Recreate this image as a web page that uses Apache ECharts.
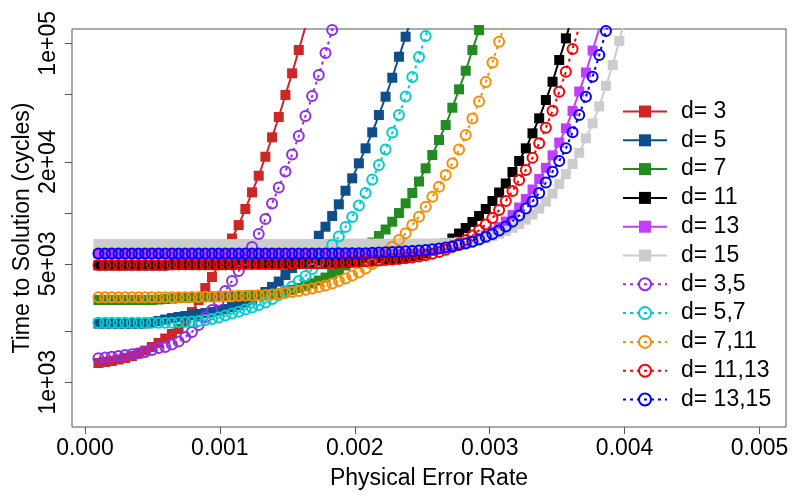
<!DOCTYPE html>
<html>
<head>
<meta charset="utf-8">
<script src="https://cdn.jsdelivr.net/npm/echarts@6/dist/echarts.min.js"></script>
<style>
  html, body { margin: 0; padding: 0; background: #fff; }
  #chart { width: 800px; height: 500px; }
</style>
</head>
<body>
<div id="chart"></div>
<script>
// physical error rates shared by every curve (100 steps from 1e-4 to 5e-3, only the visible part)
var errorRates = [
  0.0001, 0.0001495, 0.000199, 0.0002485, 0.000298, 0.0003475, 0.000397, 0.0004465, 0.000496, 0.0005455,
  0.0005949, 0.0006444, 0.0006939, 0.0007434, 0.0007929, 0.0008424, 0.0008919, 0.0009414, 0.0009909, 0.0010404,
  0.0010899, 0.0011394, 0.0011889, 0.0012384, 0.0012879, 0.0013374, 0.0013869, 0.0014364, 0.0014859, 0.0015354,
  0.0015848, 0.0016343, 0.0016838, 0.0017333, 0.0017828, 0.0018323, 0.0018818, 0.0019313, 0.0019808, 0.0020303,
  0.0020798, 0.0021293, 0.0021788, 0.0022283, 0.0022778, 0.0023273, 0.0023768, 0.0024263, 0.0024758, 0.0025253,
  0.0025747, 0.0026242, 0.0026737, 0.0027232, 0.0027727, 0.0028222, 0.0028717, 0.0029212, 0.0029707, 0.0030202,
  0.0030697, 0.0031192, 0.0031687, 0.0032182, 0.0032677, 0.0033172, 0.0033667, 0.0034162, 0.0034657, 0.0035152,
  0.0035646, 0.0036141, 0.0036636, 0.0037131, 0.0037626, 0.0038121, 0.0038616, 0.0039111, 0.0039606, 0.0040101
]

// time to solution (cycles), single distance
var d3 = [
  1300, 1318, 1336, 1363, 1391, 1429, 1479, 1540, 1616, 1706,
  1813, 1928, 2063, 2300, 2598, 3059, 3600, 4180, 4920, 5870,
  7050, 8470, 10530, 13210, 16550, 21430, 27890, 36750, 49550, 66530,
  91300, 125300
]
var d5 = [
  2220, 2220, 2220, 2220, 2220, 2220, 2220, 2223, 2253, 2300,
  2347, 2395, 2428, 2461, 2495, 2529, 2563, 2598, 2652, 2706,
  2781, 2858, 2957, 3080, 3229, 3410, 3650, 3932, 4296, 4724,
  5195, 5792, 6457, 7327, 8279, 9574, 11220, 13500, 15980, 19590,
  24020, 29850, 37760, 48420, 62670, 83350, 109400, 146900
]
var d7 = [
  3059, 3059, 3059, 3059, 3059, 3059, 3059, 3059, 3059, 3080,
  3100, 3120, 3140, 3155, 3165, 3175, 3185, 3195, 3205, 3215,
  3225, 3235, 3245, 3255, 3265, 3285, 3310, 3355, 3424, 3503,
  3600, 3709, 3838, 3987, 4153, 4355, 4598, 4889, 5231, 5636,
  6115, 6680, 7297, 7971, 8862, 9972, 11380, 13090, 15300, 18300,
  21930, 26890, 32960, 41700, 53530, 68920, 91300, 119800, 160000
]
var d11 = [
  4900, 4900, 4900, 4900, 4900, 4900, 4900, 4900, 4900, 4900,
  4900, 4935, 4935, 4935, 4935, 4935, 4935, 4935, 4935, 4935,
  4935, 4970, 4970, 4970, 4970, 4970, 4970, 4970, 4970, 5020,
  5020, 5020, 5020, 5020, 5020, 5040, 5060, 5080, 5105, 5130,
  5160, 5190, 5225, 5270, 5320, 5380, 5450, 5530, 5620, 5753,
  5993, 6285, 6634, 7054, 7548, 8134, 8826, 9574, 10530, 11740,
  13180, 14890, 17410, 20210, 24020, 29440, 36110, 46300, 59360, 79700,
  107000, 146900
]
var d13 = [
  5740, 5740, 5740, 5740, 5740, 5740, 5740, 5740, 5740, 5740,
  5740, 5740, 5740, 5740, 5740, 5740, 5740, 5740, 5740, 5740,
  5740, 5740, 5740, 5740, 5740, 5740, 5740, 5740, 5740, 5740,
  5740, 5740, 5740, 5740, 5740, 5740, 5770, 5770, 5770, 5770,
  5770, 5800, 5825, 5850, 5870, 5895, 5930, 5960, 6000, 6050,
  6110, 6180, 6270, 6380, 6510, 6660, 6840, 7050, 7347, 7757,
  8245, 8886, 9705, 10750, 12060, 13730, 15830, 18430, 21840, 25980,
  31520, 39870, 51960, 67270, 90700, 122300
]
var d15 = [
  6545, 6545, 6545, 6545, 6545, 6545, 6545, 6545, 6545, 6545,
  6545, 6545, 6545, 6545, 6545, 6545, 6545, 6545, 6545, 6545,
  6545, 6545, 6545, 6545, 6545, 6545, 6545, 6545, 6545, 6545,
  6545, 6545, 6545, 6545, 6545, 6572, 6572, 6572, 6572, 6572,
  6572, 6572, 6572, 6572, 6572, 6572, 6572, 6572, 6572, 6572,
  6572, 6599, 6625, 6662, 6707, 6771, 6855, 6968, 7111, 7297,
  7528, 7809, 8156, 8588, 9131, 9772, 10600, 11660, 13000, 14790,
  16940, 19410, 22590, 27510, 33730, 42490, 56160, 74470, 103400, 146900
]

// time to solution (cycles), distance pairs
var d3d5 = [
  1385, 1400, 1414, 1430, 1450, 1465, 1483, 1510, 1550, 1594,
  1616, 1670, 1740, 1850, 1980, 2180, 2430, 2670, 3020, 3460,
  3960, 4540, 5270, 6290, 7500, 9190, 11340, 14100, 17520, 22080,
  28390, 37250, 48880, 65010, 87670, 119800, 166000
]
var d5d7 = [
  2247, 2247, 2247, 2247, 2247, 2247, 2247, 2247, 2247, 2247,
  2247, 2247, 2259, 2268, 2284, 2300, 2331, 2363, 2412, 2478,
  2546, 2609, 2688, 2762, 2858, 2957, 3101, 3273, 3457, 3675,
  3960, 4239, 4660, 5160, 5753, 6457, 7248, 8245, 9445, 11040,
  13090, 15720, 19140, 23630, 29770, 37760, 48560, 63270, 83020, 110400,
  147000
]
var d7d11 = [
  3173, 3173, 3173, 3173, 3173, 3173, 3173, 3173, 3173, 3173,
  3173, 3173, 3173, 3177, 3182, 3185, 3194, 3203, 3212, 3221,
  3229, 3238, 3247, 3256, 3265, 3278, 3296, 3328, 3364, 3410,
  3457, 3513, 3576, 3650, 3725, 3827, 3960, 4097, 4268, 4446,
  4692, 4987, 5338, 5832, 6310, 6911, 7569, 8472, 9484, 10860,
  12450, 14260, 16710, 19590, 23630, 28770, 36010, 45370, 59120, 77030,
  102200, 137200
]
var d11d13 = [
  4920, 4920, 4920, 4920, 4920, 4920, 4920, 4920, 4920, 4920,
  4920, 4955, 4955, 4955, 4955, 4955, 4955, 4955, 4955, 4955,
  4955, 4987, 4987, 4987, 4987, 4987, 4987, 4987, 4987, 5036,
  5036, 5036, 5036, 5036, 5036, 5056, 5077, 5098, 5126, 5147,
  5175, 5195, 5231, 5267, 5303, 5338, 5390, 5449, 5523, 5614,
  5730, 5870, 6049, 6285, 6572, 6911, 7347, 7884, 8531, 9318,
  10390, 11740, 13450, 15620, 17890, 21140, 25700, 31780, 40050, 51830,
  68000, 92560, 125300
]
var d13d15 = [
  5753, 5753, 5753, 5753, 5753, 5753, 5753, 5753, 5753, 5753,
  5753, 5753, 5753, 5753, 5753, 5753, 5753, 5753, 5753, 5753,
  5753, 5753, 5753, 5753, 5753, 5753, 5753, 5753, 5753, 5753,
  5753, 5753, 5753, 5753, 5753, 5753, 5776, 5776, 5776, 5776,
  5776, 5808, 5832, 5856, 5870, 5895, 5928, 5952, 5993, 6034,
  6092, 6159, 6243, 6346, 6457, 6590, 6753, 6958, 7218, 7497,
  7863, 8302, 8886, 9640, 10600, 11660, 13090, 15100, 17480, 20210,
  24020, 29850, 37760, 48420, 63530, 85310, 118200, 163800
]

// axes
var xTicks = [0, 0.001, 0.002, 0.003, 0.004, 0.005]
var yTicks = [1000, 2000, 5000, 10000, 20000, 50000, 100000]
var yLabelValues = [1000, 5000, 20000, 100000]
var yTickLabels = ['1e+03', '5e+03', '2e+04', '1e+05']

var FONT = 'Liberation Sans'
var AXIS_COLOR = '#555'

function pairs (values) {
  return values.map(function (v, i) { return [errorRates[i], v] })
}

function squareSeries (name, values, color) {
  return {
    type: 'line',
    name: name,
    data: pairs(values),
    symbol: 'rect',
    symbolSize: 10,
    lineStyle: { color: color, width: 2 },
    itemStyle: { color: color },
    emphasis: { disabled: true }
  }
}

function circleSeries (name, values, color) {
  return {
    type: 'line',
    name: name,
    data: pairs(values),
    symbol: 'circle',
    symbolSize: 10,
    lineStyle: { color: color, width: 2, type: [3, 4] },
    itemStyle: { color: 'rgba(0,0,0,0)', borderColor: color, borderWidth: 2 },
    emphasis: { disabled: true }
  }
}

var series = [
  squareSeries('d= 3', d3, '#CD2626'),
  squareSeries('d= 5', d5, '#104E8B'),
  squareSeries('d= 7', d7, '#228B22'),
  squareSeries('d= 11', d11, '#000000'),
  squareSeries('d= 13', d13, '#BF3EFF'),
  squareSeries('d= 15', d15, '#CCCCCC'),
  circleSeries('d= 3,5', d3d5, '#912CEE'),
  circleSeries('d= 5,7', d5d7, '#00CDCD'),
  circleSeries('d= 7,11', d7d11, '#FF8C00'),
  circleSeries('d= 11,13', d11d13, '#FF0000'),
  circleSeries('d= 13,15', d13d15, '#0000FF')
]

// plot extents (R adds 4% on each side)
var xMin = -0.000096
var xMax = 0.005196
var yMin = 545
var yMax = 121500

var chart = echarts.init(document.getElementById('chart'))
chart.setOption({
  animation: false,
  backgroundColor: '#fff',
  textStyle: { fontFamily: FONT },
  grid: {
    left: 72, right: 14, top: 29, bottom: 73,
    show: true, borderColor: AXIS_COLOR, borderWidth: 1,
    outerBoundsMode: 'none'
  },
  legend: {
    data: series.map(function (s) { return s.name }),
    orient: 'vertical',
    left: 617,
    top: 95,
    itemWidth: 44,
    itemHeight: 15,
    itemGap: 5.8,
    selectedMode: false,
    textStyle: { fontFamily: FONT, fontSize: 23, color: '#000', padding: [0, 0, 0, 9] }
  },
  xAxis: {
    type: 'value',
    min: xMin,
    max: xMax,
    name: 'Physical Error Rate',
    nameLocation: 'middle',
    nameGap: 40,
    nameMoveOverlap: false,
    nameTextStyle: { fontFamily: FONT, fontSize: 23, color: '#000' },
    axisLine: { show: false },
    axisTick: { show: true, length: 7, customValues: xTicks, lineStyle: { color: AXIS_COLOR } },
    axisLabel: {
      customValues: xTicks,
      margin: 10,
      fontFamily: FONT, fontSize: 23, color: '#000',
      formatter: function (v) { return v.toFixed(3) }
    },
    splitLine: { show: false }
  },
  yAxis: [
    {
      type: 'log',
      logBase: 10,
      min: yMin,
      max: yMax,
      show: false,
      splitLine: { show: false }
    },
    {
      // label-only axis in log10 units, aligned with the log axis above
      type: 'value',
      position: 'left',
      min: Math.log10(yMin),
      max: Math.log10(yMax),
      name: 'Time to Solution (cycles)',
      nameLocation: 'middle',
      nameGap: 38,
      nameMoveOverlap: false,
      nameTextStyle: { fontFamily: FONT, fontSize: 23, color: '#000' },
      axisLine: { show: false },
      axisTick: { show: true, length: 7, customValues: yTicks.map(Math.log10), lineStyle: { color: AXIS_COLOR } },
      axisLabel: {
        customValues: yLabelValues.map(Math.log10),
        rotate: 90,
        margin: 12,
        fontFamily: FONT, fontSize: 23, color: '#000',
        formatter: function (v) {
          for (var i = 0; i < yLabelValues.length; i++) {
            if (Math.abs(Math.log10(yLabelValues[i]) - v) < 1e-6) return yTickLabels[i]
          }
          return ''
        }
      },
      splitLine: { show: false }
    }
  ],
  series: series
})
</script>
</body>
</html>
